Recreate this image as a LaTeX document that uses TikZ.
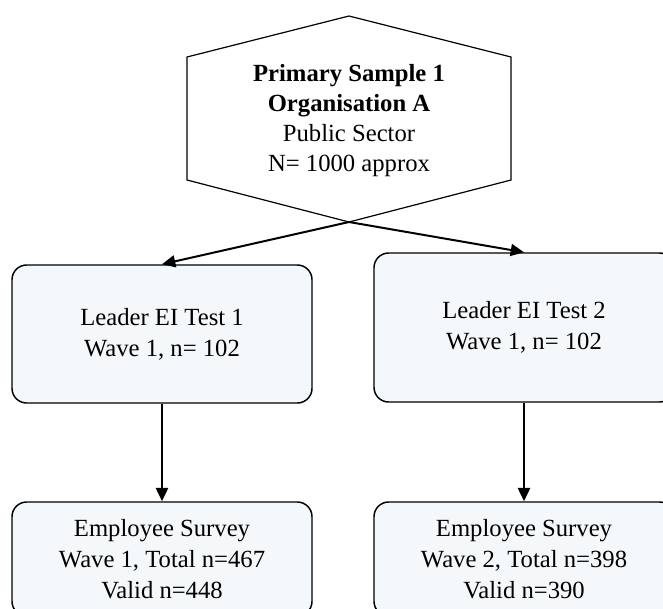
\documentclass[tikz,border=0pt]{standalone}
\usepackage{fontspec}
\setmainfont{Liberation Serif}
\usetikzlibrary{arrows.meta}
\definecolor{boxfill}{RGB}{244,248,250}
\tikzset{
	stagebox/.style={draw, line width=1.1pt, rounded corners=11pt, fill=boxfill, align=center, font=\fontsize{18.5}{23}\selectfont, inner sep=0pt},
	flow/.style={-{Triangle[length=10pt,width=9pt]}, line width=1.8pt}
}
\begin{document}
\begin{tikzpicture}[x=0.75pt,y=-0.75pt]
	\clip (0,0) rectangle (663,608);
	\draw[line width=0.9pt, fill=white] (349,16) -- (511,57) -- (511,180) -- (349,222) -- (187,180) -- (187,57) -- cycle;
	\coordinate (hexB) at (349,222);
	\node[align=center, font=\fontsize{18.5}{22.5}\selectfont] (sample) at (349,121) {\textbf{Primary Sample 1}\\\textbf{Organisation A}\\Public Sector\\N= 1000 approx};
	\node[stagebox, minimum width=225pt, minimum height=103.5pt] (lead1) at (162,334) {Leader EI Test 1\\Wave 1, n= 102};
	\node[stagebox, minimum width=225pt, minimum height=111.75pt] (lead2) at (524,327.5) {Leader EI Test 2\\Wave 1, n= 102};
	\node[stagebox, minimum width=225pt, minimum height=85.5pt] (emp1) at (162,559) {Employee Survey\\Wave 1, Total n=467\\Valid n=448};
	\node[stagebox, minimum width=225pt, minimum height=85.5pt] (emp2) at (524,559) {Employee Survey\\Wave 2, Total n=398\\Valid n=390};
	\draw[flow, line width=1.5pt] (hexB) -- (lead1.north);
	\draw[flow, line width=1.5pt] (hexB) -- (lead2.north);
	\draw[flow] (lead1) -- (emp1);
	\draw[flow] (lead2) -- (emp2);
\end{tikzpicture}
\end{document}
